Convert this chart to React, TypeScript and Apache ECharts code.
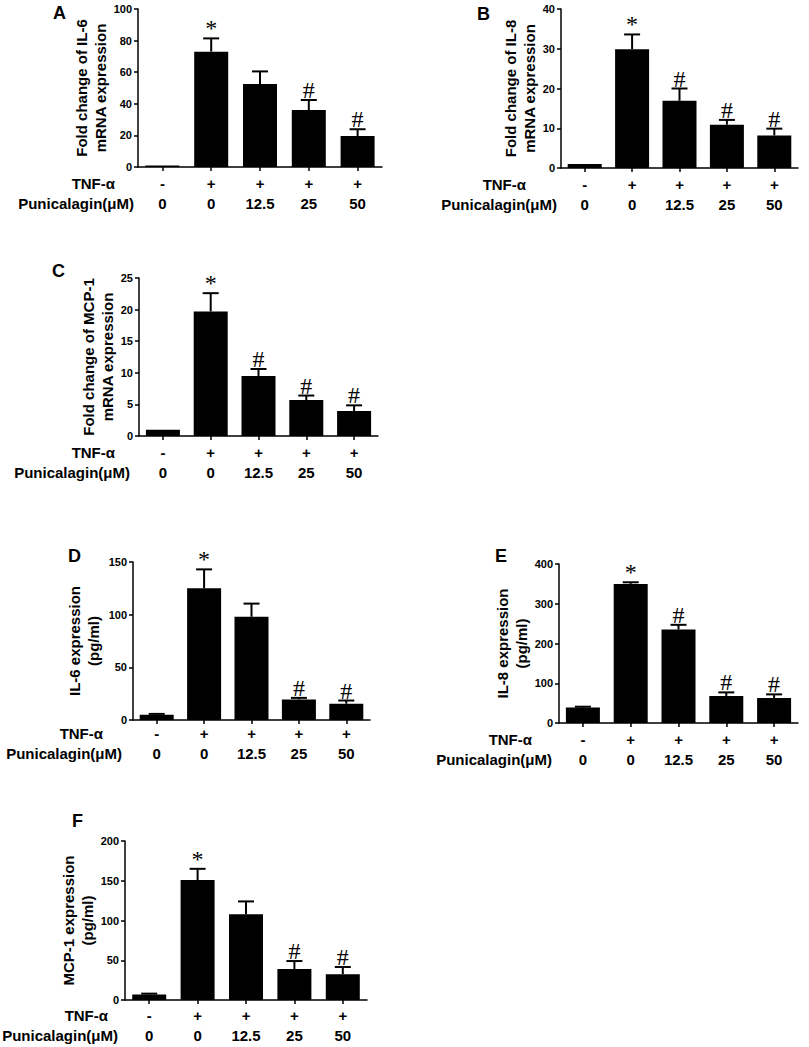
import React, { useEffect, useRef } from 'react';
import * as echarts from 'echarts';

// Shared category labels
const tnfLabels = ['-', '+', '+', '+', '+'];
const doseLabels = ['0', '0', '12.5', '25', '50'];
const tnfRowLabel = 'TNF-α';
const doseRowLabel = 'Punicalagin(μM)';

// Panel A: Fold change of IL-6 mRNA
const aMeans = [1, 73, 52.5, 36, 19.6];
const aSem = [0, 8.4, 8, 6.4, 4.3];
const aSig = ['', '*', '', '#', '#'];

// Panel B: Fold change of IL-8 mRNA
const bMeans = [1, 29.9, 16.9, 10.9, 8.2];
const bSem = [0, 3.7, 3.1, 1.2, 1.7];
const bSig = ['', '*', '#', '#', '#'];

// Panel C: Fold change of MCP-1 mRNA
const cMeans = [1, 19.7, 9.5, 5.7, 3.95];
const cSem = [0, 2.9, 1.1, 0.7, 0.9];
const cSig = ['', '*', '#', '#', '#'];

// Panel D: IL-6 expression (pg/ml)
const dMeans = [5, 125, 98, 19.5, 15.5];
const dSem = [0.8, 18, 12.5, 1.5, 3];
const dSig = ['', '*', '', '#', '#'];

// Panel E: IL-8 expression (pg/ml)
const eMeans = [39, 350, 235, 68, 63];
const eSem = [2, 4, 12, 9, 9];
const eSig = ['', '*', '#', '#', '#'];

// Panel F: MCP-1 expression (pg/ml)
const fMeans = [7, 151, 108, 39, 32.5];
const fSem = [1, 14, 16, 10, 9];
const fSig = ['', '*', '', '#', '#'];

const SANS = '"Liberation Sans", Arial, Helvetica, sans-serif';
const SERIF = '"Liberation Serif", "Times New Roman", serif';

const panels = [
  { letter: 'A', means: aMeans, sem: aSem, sig: aSig, max: 100, interval: 20,
    name: 'Fold change of IL-6\nmRNA expression',
    grid: { left: 138, top: 9, width: 244, height: 158 }, nameGap: 21, labelMargin: 6,
    letterPos: [53, 13], tnfRight: 115, doseRight: 134 },
  { letter: 'B', means: bMeans, sem: bSem, sig: bSig, max: 40, interval: 10,
    name: 'Fold change of IL-8\nmRNA expression',
    grid: { left: 561, top: 9, width: 237, height: 159 }, nameGap: 17, labelMargin: 6,
    letterPos: [477, 14], tnfRight: 526, doseRight: 557 },
  { letter: 'C', means: cMeans, sem: cSem, sig: cSig, max: 25, interval: 5,
    name: 'Fold change of MCP-1\nmRNA expression',
    grid: { left: 139, top: 278, width: 239, height: 158 }, nameGap: 21, labelMargin: 6,
    letterPos: [52, 271], tnfRight: 115, doseRight: 130 },
  { letter: 'D', means: dMeans, sem: dSem, sig: dSig, max: 150, interval: 50,
    name: 'IL-6 expression\n(pg/ml)',
    grid: { left: 133, top: 562, width: 237, height: 158 }, nameGap: 30, labelMargin: 3,
    letterPos: [68, 556], tnfRight: 103, doseRight: 122 },
  { letter: 'E', means: eMeans, sem: eSem, sig: eSig, max: 400, interval: 100,
    name: 'IL-8 expression\n(pg/ml)',
    grid: { left: 559, top: 564, width: 239, height: 159 }, nameGap: 27, labelMargin: 6,
    letterPos: [495, 556], tnfRight: 532, doseRight: 552 },
  { letter: 'F', means: fMeans, sem: fSem, sig: fSig, max: 200, interval: 50,
    name: 'MCP-1 expression\n(pg/ml)',
    grid: { left: 125, top: 841, width: 242, height: 159 }, nameGap: 26, labelMargin: 5,
    letterPos: [72, 821], tnfRight: 108, doseRight: 118 },
];

const categories = doseLabels.map((d, i) => `${tnfLabels[i]}\n${d}`);

function makeRenderItem(sig: string[]) {
  return (params: any, api: any) => {
    const idx = api.value(0);
    const mean = api.value(1);
    const hi = api.value(2);
    const p0 = api.coord([idx, mean]);
    const p1 = api.coord([idx, hi]);
    const children: any[] = [];
    if (hi > mean) {
      children.push({
        type: 'line',
        shape: { x1: p0[0], y1: p0[1], x2: p1[0], y2: p1[1] },
        style: { stroke: '#000', lineWidth: 2 },
      });
      children.push({
        type: 'line',
        shape: { x1: p1[0] - 8, y1: p1[1], x2: p1[0] + 8, y2: p1[1] },
        style: { stroke: '#000', lineWidth: 2 },
      });
    }
    const s = sig[params.dataIndex];
    if (s) {
      const off = s === '*' ? 2 : 2;
      children.push({
        type: 'text',
        style: {
          text: s,
          x: p1[0],
          y: p1[1] + off,
          align: 'center',
          textAlign: 'center',
          verticalAlign: 'bottom',
          textVerticalAlign: 'bottom',
          fill: '#000',
          font: `24px ${SERIF}`,
        },
      });
    }
    return { type: 'group', children };
  };
}

export default function App() {
  const ref = useRef<HTMLDivElement>(null);
  useEffect(() => {
    if (!ref.current) return;
    const chart = echarts.init(ref.current, undefined, { renderer: 'svg' });
    const grids: any[] = [];
    const xAxes: any[] = [];
    const yAxes: any[] = [];
    const series: any[] = [];
    const graphics: any[] = [];
    panels.forEach((p, i) => {
      grids.push({ ...p.grid, containLabel: false });
      xAxes.push({
        type: 'category',
        gridIndex: i,
        data: categories,
        boundaryGap: true,
        axisLine: { show: true, lineStyle: { color: '#000', width: 1.5 } },
        axisTick: { show: true, alignWithLabel: true, length: 4, lineStyle: { color: '#000', width: 1.5 } },
        axisLabel: {
          margin: p.labelMargin,
          color: '#000',
          fontSize: 15,
          fontWeight: 'bold',
          fontFamily: SANS,
          lineHeight: 20,
          interval: 0,
        },
        splitLine: { show: false },
      });
      yAxes.push({
        type: 'value',
        gridIndex: i,
        min: 0,
        max: p.max,
        interval: p.interval,
        name: p.name,
        nameLocation: 'middle',
        nameRotate: 90,
        nameGap: p.nameGap,
        nameTextStyle: { color: '#000', fontSize: 15, fontWeight: 'bold', fontFamily: SANS, lineHeight: 19 },
        axisLine: { show: true, lineStyle: { color: '#000', width: 1.5 } },
        axisTick: { show: true, length: 4, lineStyle: { color: '#000', width: 1.5 } },
        axisLabel: { margin: 6, color: '#000', fontSize: 11, fontWeight: 'bold', fontFamily: SANS },
        splitLine: { show: false },
      });
      series.push({
        type: 'bar',
        xAxisIndex: i,
        yAxisIndex: i,
        data: p.means,
        barWidth: 34,
        itemStyle: { color: '#000' },
        silent: true,
      });
      series.push({
        type: 'custom',
        xAxisIndex: i,
        yAxisIndex: i,
        data: p.means.map((m, k) => [k, m, m + p.sem[k]]),
        encode: { x: 0, y: [1, 2] },
        renderItem: makeRenderItem(p.sig),
        clip: false,
        z: 5,
        silent: true,
      });
      const base = p.grid.top + p.grid.height + p.labelMargin;
      graphics.push({
        type: 'text',
        x: p.letterPos[0],
        y: p.letterPos[1],
        style: {
          text: p.letter, fill: '#000', font: `bold 18px ${SANS}`,
          align: 'left', textAlign: 'left', verticalAlign: 'middle', textVerticalAlign: 'middle',
        },
      });
      graphics.push({
        type: 'text',
        x: p.tnfRight,
        y: base + 10,
        style: {
          text: tnfRowLabel, fill: '#000', font: `bold 15px ${SANS}`,
          align: 'right', textAlign: 'right', verticalAlign: 'middle', textVerticalAlign: 'middle',
        },
      });
      graphics.push({
        type: 'text',
        x: p.doseRight,
        y: base + 30,
        style: {
          text: doseRowLabel, fill: '#000', font: `bold 15px ${SANS}`,
          align: 'right', textAlign: 'right', verticalAlign: 'middle', textVerticalAlign: 'middle',
        },
      });
    });
    chart.setOption({
      animation: false,
      backgroundColor: '#fff',
      grid: grids,
      xAxis: xAxes,
      yAxis: yAxes,
      series,
      graphic: graphics,
    });
    return () => chart.dispose();
  }, []);
  return (
    <div
      ref={ref}
      style={{ position: 'absolute', left: 0, top: 0, width: 809, height: 1047, background: '#fff' }}
    />
  );
}
